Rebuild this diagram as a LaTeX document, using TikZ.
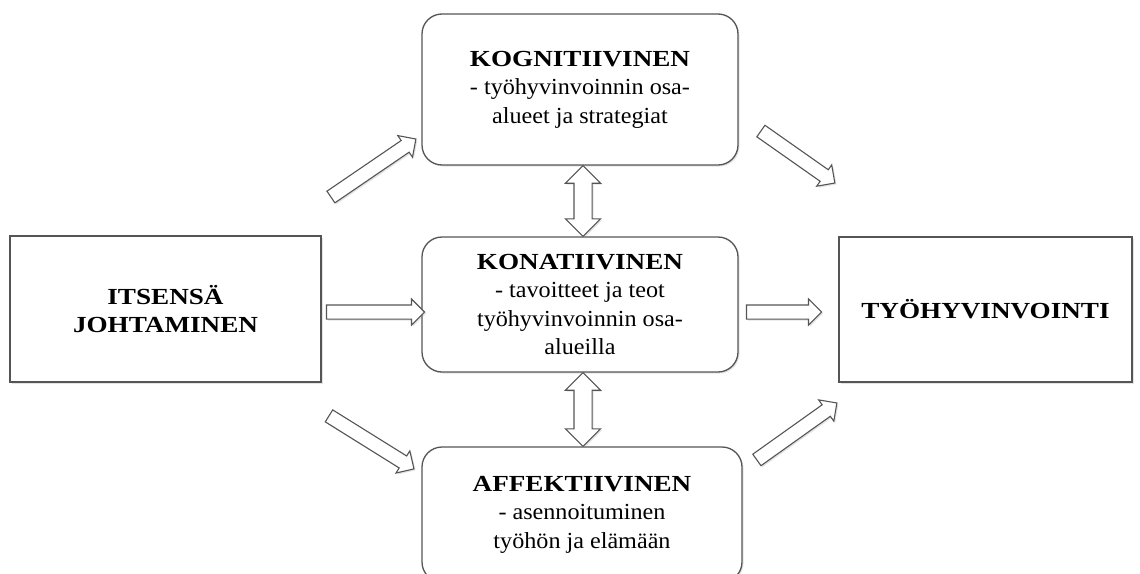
\documentclass[tikz,border=0pt]{standalone}
\usepackage{fontspec}
\setmainfont{Liberation Serif}[FakeStretch=1.05, BoldFeatures={FakeStretch=1.18}]
\usetikzlibrary{shapes.arrows,shadows,calc}
\definecolor{linec}{HTML}{555555}
\tikzset{
  shad/.style={drop shadow={shadow xshift=1.5pt, shadow yshift=-1.5pt, opacity=0.22}},
  box/.style={draw=linec, line width=1.3pt, fill=white, align=center, inner sep=0pt,
    font=\fontsize{23}{28.5}\selectfont, shad},
  rbox/.style={box, rounded corners=20pt},
  sarrow/.style={single arrow, draw=linec, line width=1.1pt, fill=white, inner xsep=0pt,
    inner ysep=6.5pt, minimum width=25pt, single arrow head extend=6pt,
    single arrow tip angle=90, shad},
  darrow/.style={double arrow, draw=linec, line width=1.1pt, fill=white, inner xsep=0pt,
    inner ysep=8.5pt, minimum width=34pt, double arrow head extend=8.5pt,
    double arrow tip angle=90, shad}
}
\newcommand\blockarr[3][sarrow]{%
  \path let \p1=($(#3)-(#2)$), \n1={atan2(\y1,\x1)}, \n2={veclen(\x1,\y1)} in
    node[#1, minimum height=\n2, rotate=\n1] at ($(#2)!0.5!(#3)$) {};}
\begin{document}
\begin{tikzpicture}[x=1pt,y=-1pt]
\useasboundingbox (0,0) rectangle (1140,573);
\clip (0,0) rectangle (1140,573);
\node[box, minimum width=311pt, minimum height=146pt] (left) at (165.5,309)
  {\textbf{ITSENSÄ}\\\textbf{JOHTAMINEN}};
\node[box, minimum width=293pt, minimum height=145pt] (right) at (985.5,309.5)
  {\textbf{TYÖHYVINVOINTI}};
\node[rbox, minimum width=316pt, minimum height=151pt] (top) at (580,89.5)
  {\textbf{KOGNITIIVINEN}\\- työhyvinvoinnin osa-\\alueet ja strategiat};
\node[rbox, minimum width=316pt, minimum height=135pt] (mid) at (580,304.5)
  {\textbf{KONATIIVINEN}\\- tavoitteet ja teot\\työhyvinvoinnin osa-\\alueilla};
\node[rbox, minimum width=320pt, minimum height=135pt] (bot) at (582,514.5)
  {\textbf{AFFEKTIIVINEN}\\- asennoituminen\\työhön ja elämään};
\coordinate (a1) at (328,199); \coordinate (b1) at (413,141);
\coordinate (a2) at (758,129); \coordinate (b2) at (832,181);
\coordinate (a3) at (323,312); \coordinate (b3) at (421,312);
\coordinate (a4) at (743,312); \coordinate (b4) at (818,312);
\coordinate (a5) at (326,414); \coordinate (b5) at (411,467);
\coordinate (a6) at (754,462); \coordinate (b6) at (834,405);
\coordinate (c1) at ($(top.south)+(3,0)$); \coordinate (d1) at ($(mid.north)+(3,0)$);
\coordinate (c2) at ($(mid.south)+(3,0)$); \coordinate (d2) at ($(bot.north)+(1,0)$);
\blockarr{a1}{b1}
\blockarr{a2}{b2}
\blockarr{a3}{b3}
\blockarr{a4}{b4}
\blockarr{a5}{b5}
\blockarr{a6}{b6}
\blockarr[darrow]{c1}{d1}
\blockarr[darrow]{c2}{d2}
\end{tikzpicture}
\end{document}
